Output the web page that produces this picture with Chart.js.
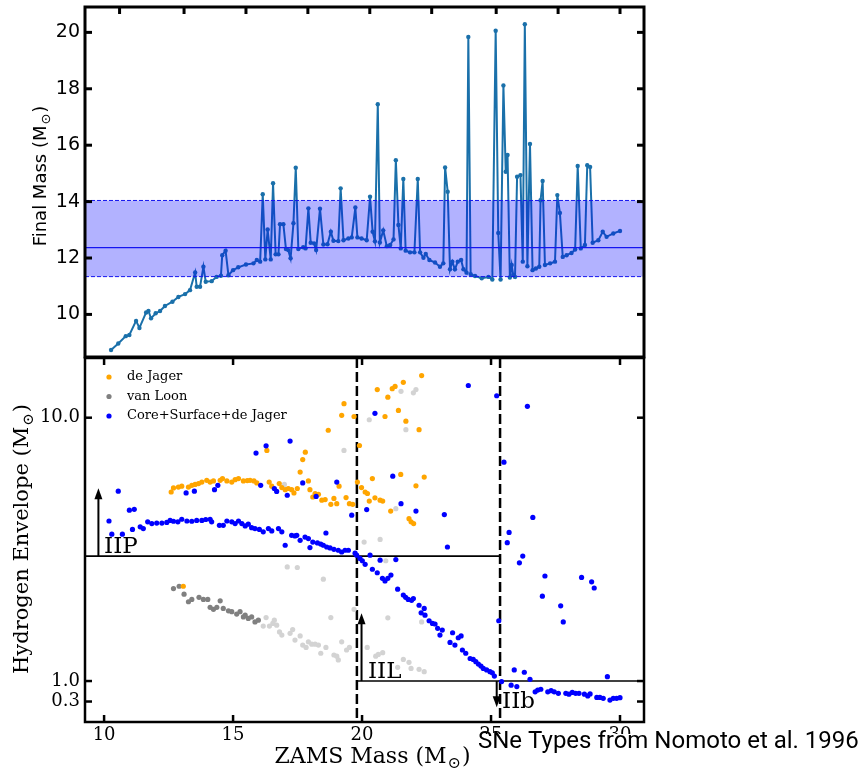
<!DOCTYPE html>
<html>
<head>
<meta charset="utf-8">
<script src="https://cdn.jsdelivr.net/npm/chart.js"></script>
<style>
  html, body { margin: 0; padding: 0; background: #fff; }
  #wrap { position: relative; width: 862px; height: 769px; }
  canvas { position: absolute; left: 0; top: 0; }
</style>
</head>
<body>
<div id="wrap">
  <canvas id="bottom" width="862" height="769"></canvas>
  <canvas id="top" width="862" height="769"></canvas>
</div>
<script>
// Top panel: final mass against ZAMS mass
const topZams = [
  10.27, 10.55, 10.84, 10.98, 11.24, 11.37, 11.63, 11.72, 11.82, 12.00,
  12.17, 12.36, 12.65, 12.88, 13.14, 13.33, 13.53, 13.59, 13.72, 13.85,
  13.94, 14.17, 14.36, 14.53, 14.58, 14.71, 14.82, 15.00, 15.20, 15.50,
  15.79, 15.92, 16.05, 16.15, 16.25, 16.34, 16.46, 16.55, 16.65, 16.76,
  16.82, 16.95, 17.05, 17.14, 17.23, 17.34, 17.43, 17.53, 17.72, 17.81,
  17.92, 18.01, 18.14, 18.22, 18.37, 18.50, 18.66, 18.79, 18.89, 19.08,
  19.17, 19.28, 19.47, 19.60, 19.74, 19.82, 19.98, 20.18, 20.31, 20.41,
  20.50, 20.61, 20.69, 20.82, 20.96, 21.09, 21.22, 21.31, 21.41, 21.50,
  21.60, 21.69, 21.86, 22.03, 22.16, 22.25, 22.38, 22.47, 22.61, 22.83,
  23.02, 23.15, 23.22, 23.32, 23.41, 23.50, 23.60, 23.71, 23.84, 23.93,
  24.05, 24.12, 24.21, 24.38, 24.64, 24.90, 25.05, 25.18, 25.28, 25.37,
  25.48, 25.57, 25.64, 25.73, 25.80, 25.86, 25.93, 26.01, 26.14, 26.23,
  26.31, 26.41, 26.51, 26.61, 26.74, 26.87, 26.92, 27.00, 27.09, 27.29,
  27.48, 27.57, 27.67, 27.78, 27.93, 28.12, 28.26, 28.36, 28.48, 28.64,
  28.73, 28.84, 28.94, 29.16, 29.33, 29.48, 29.74, 30.00
];
const topFinal = [
  8.74, 8.97, 9.23, 9.27, 9.77, 9.52, 10.07, 10.12, 9.86, 10.04,
  10.12, 10.30, 10.45, 10.62, 10.72, 10.86, 11.49, 10.98, 10.98, 11.69,
  11.16, 11.18, 11.33, 11.37, 12.10, 12.26, 11.39, 11.57, 11.67, 11.77,
  11.81, 11.93, 11.87, 14.26, 11.95, 13.01, 11.95, 14.65, 12.13, 12.13,
  13.20, 13.20, 12.32, 12.28, 11.99, 13.23, 15.20, 12.32, 12.38, 12.34,
  13.76, 12.54, 12.52, 12.28, 13.75, 12.48, 12.49, 12.93, 12.61, 12.60,
  14.47, 12.63, 12.69, 12.73, 13.79, 12.73, 12.69, 12.63, 14.17, 12.93,
  12.59, 17.45, 12.55, 12.98, 12.42, 12.46, 12.66, 15.47, 13.17, 12.34,
  14.80, 12.26, 12.20, 12.20, 14.80, 12.20, 12.01, 12.14, 11.93, 11.84,
  11.69, 11.81, 15.21, 14.35, 11.60, 11.87, 11.60, 11.87, 11.93, 11.60,
  11.48, 19.84, 11.43, 11.36, 11.28, 11.33, 11.24, 20.06, 12.89, 11.24,
  18.12, 15.06, 15.65, 11.31, 11.75, 11.40, 11.33, 14.88, 14.94, 11.87,
  20.29, 11.71, 16.04, 11.57, 11.63, 11.69, 14.05, 14.73, 11.75, 11.81,
  11.87, 14.23, 13.60, 12.04, 12.10, 12.18, 12.30, 15.26, 12.34, 12.46,
  15.29, 15.23, 12.54, 12.63, 12.93, 12.75, 12.87, 12.96
];

// band of final masses
const bandLow = 11.34;
const bandMid = 12.37;
const bandHigh = 14.04;

// Bottom panel: hydrogen envelope mass
const coreZams = [
  10.19, 10.30, 10.55, 10.71, 10.98, 11.10, 11.17, 11.40, 11.52, 11.69,
  11.85, 12.04, 12.24, 12.43, 12.56, 12.69, 12.86, 13.01, 13.18, 13.21,
  13.40, 13.50, 13.59, 13.79, 13.94, 14.11, 14.17, 14.28, 14.41, 14.47,
  14.62, 14.76, 14.95, 15.08, 15.21, 15.34, 15.47, 15.59, 15.72, 15.85,
  15.89, 16.02, 16.07, 16.17, 16.28, 16.37, 16.50, 16.60, 16.69, 16.76,
  16.89, 17.02, 17.10, 17.21, 17.27, 17.40, 17.47, 17.60, 17.70, 17.79,
  17.92, 17.98, 18.09, 18.22, 18.27, 18.40, 18.50, 18.60, 18.63, 18.76,
  18.91, 19.02, 19.08, 19.21, 19.34, 19.47, 19.60, 19.73, 19.79, 19.92,
  20.01, 20.12, 20.18, 20.31, 20.40, 20.50, 20.59, 20.70, 20.79, 20.89,
  21.00, 21.12, 21.19, 21.31, 21.38, 21.51, 21.60, 21.69, 21.79, 21.92,
  21.99, 22.09, 22.21, 22.29, 22.41, 22.44, 22.60, 22.73, 22.83, 22.93,
  23.02, 23.11, 23.19, 23.31, 23.41, 23.51, 23.60, 23.73, 23.84, 23.89,
  24.02, 24.12, 24.19, 24.31, 24.41, 24.51, 24.61, 24.70, 24.83, 24.96,
  25.05, 25.13, 25.22, 25.30, 25.41, 25.50, 25.63, 25.70, 25.78, 25.90,
  26.00, 26.10, 26.23, 26.29, 26.41, 26.51, 26.62, 26.71, 26.81, 26.93,
  26.99, 27.09, 27.20, 27.33, 27.45, 27.61, 27.70, 27.80, 27.90, 28.02,
  28.15, 28.28, 28.41, 28.51, 28.62, 28.75, 28.84, 28.90, 29.00, 29.10,
  29.22, 29.35, 29.51, 29.61, 29.74, 29.87, 30.00
];
const coreEnv = [
  6.47, 6.02, 7.49, 6.02, 6.84, 6.18, 6.87, 6.27, 6.21, 6.44,
  6.38, 6.40, 6.40, 6.42, 6.49, 6.46, 6.44, 6.53, 7.43, 6.47,
  6.46, 7.49, 6.49, 6.49, 6.52, 6.53, 6.44, 7.54, 7.69, 6.32,
  6.32, 6.47, 6.44, 6.38, 6.47, 6.38, 6.30, 6.36, 6.24, 6.21,
  8.79, 6.18, 7.69, 6.10, 9.04, 6.21, 6.13, 7.58, 7.48, 6.21,
  6.10, 5.64, 7.35, 9.20, 5.98, 5.96, 5.98, 5.81, 7.77, 5.92,
  5.87, 5.56, 5.75, 7.31, 5.72, 5.68, 5.64, 6.06, 5.58, 5.55,
  5.50, 7.80, 5.47, 5.41, 5.47, 5.47, 6.67, 5.37, 5.30, 5.19,
  5.11, 4.99, 6.86, 5.30, 4.82, 10.15, 4.70, 5.13, 4.51, 4.42,
  4.51, 4.62, 8.00, 5.15, 4.14, 7.06, 3.94, 3.86, 3.79, 3.76,
  3.82, 6.81, 3.59, 3.33, 3.48, 3.25, 3.06, 2.97, 2.95, 2.80,
  2.57, 2.74, 6.69, 5.58, 2.32, 2.65, 2.23, 2.48, 2.54, 2.06,
  1.95, 11.10, 1.77, 1.74, 1.66, 1.58, 1.51, 1.43, 1.38, 1.32,
  1.28, 1.17, 10.75, 3.06, 0.98, 8.48, 5.73, 6.08, 0.86, 1.38,
  0.81, 5.04, 5.27, 1.30, 10.39, 1.06, 6.59, 0.63, 0.69, 0.72,
  3.90, 4.59, 0.63, 0.67, 0.63, 0.58, 3.57, 3.02, 0.58, 0.55,
  0.61, 0.58, 0.58, 4.54, 0.55, 0.49, 0.56, 4.39, 4.18, 0.44,
  0.44, 0.41, 1.15, 0.35, 0.41, 0.41, 0.43
];

const jagerZams = [
  12.60, 12.69, 12.88, 13.01, 13.07, 13.27, 13.40, 13.53, 13.66, 13.79,
  13.98, 14.11, 14.24, 14.50, 14.59, 14.76, 14.95, 15.08, 15.21, 15.40,
  15.55, 15.66, 15.81, 15.92, 16.31, 16.40, 16.50, 16.79, 16.89, 17.02,
  17.14, 17.27, 17.36, 17.49, 17.60, 17.70, 17.80, 17.92, 17.98, 18.09,
  18.18, 18.31, 18.44, 18.57, 18.69, 18.79, 18.91, 19.02, 19.11, 19.21,
  19.30, 19.38, 19.51, 19.64, 19.69, 19.82, 19.90, 19.98, 20.12, 20.21,
  20.28, 20.40, 20.50, 20.59, 20.70, 20.80, 20.89, 21.00, 21.11, 21.17,
  21.28, 21.41, 21.50, 21.60, 21.70, 21.82, 21.90, 22.00, 22.09, 22.21,
  22.31, 22.41
];
const jagerEnv = [
  7.46, 7.60, 7.63, 7.66, 4.24, 7.63, 7.69, 7.72, 7.75, 7.80,
  7.86, 7.80, 7.84, 7.86, 7.92, 7.84, 7.80, 7.88, 7.92, 7.84,
  7.85, 7.86, 7.84, 7.77, 8.88, 7.80, 7.66, 7.75, 7.61, 7.54,
  7.58, 7.54, 7.43, 7.58, 8.14, 8.57, 8.82, 7.84, 7.54, 7.29,
  7.41, 7.38, 7.18, 7.20, 9.57, 7.04, 7.24, 7.06, 7.66, 10.08,
  10.48, 7.27, 7.06, 7.04, 10.04, 7.80, 9.05, 7.61, 7.46, 7.41,
  7.15, 7.92, 7.26, 10.96, 7.18, 7.15, 10.04, 10.70, 6.81, 10.99,
  11.07, 10.25, 8.06, 11.21, 9.88, 6.55, 6.44, 6.38, 7.67, 9.59,
  11.44, 7.97
];

const loonZams = [
  12.69, 12.91, 13.10, 13.27, 13.40, 13.68, 13.85, 14.02, 14.11, 14.24,
  14.37, 14.50, 14.62, 14.82, 14.95, 15.14, 15.27, 15.40, 15.47, 15.59,
  15.72, 15.85, 15.98
];
const loonEnv = [
  4.16, 4.24, 3.97, 3.71, 3.79, 3.86, 3.79, 3.79, 3.52, 3.45,
  3.52, 3.74, 3.48, 3.40, 3.37, 3.29, 3.37, 3.19, 3.25, 3.14,
  3.19, 3.02, 3.08
];

// light grey points, not in the legend
const loonHighZams = [
  16.17, 16.28, 16.41, 16.54, 16.60, 16.69, 16.80, 16.89, 16.99, 17.10,
  17.21, 17.31, 17.40, 17.49, 17.60, 17.70, 17.83, 17.92, 18.05, 18.18,
  18.31, 18.40, 18.50, 18.60, 18.79, 18.91, 19.02, 19.08, 19.21, 19.30,
  19.40, 19.51, 19.69, 20.08, 20.20, 20.28, 20.53, 20.63, 20.70, 20.80,
  20.92, 21.00, 21.31, 21.38, 21.51, 21.60, 21.70, 21.82, 21.90, 21.99,
  22.09, 22.21, 22.31, 22.41
];
const loonHighEnv = [
  2.88, 3.17, 2.88, 2.97, 3.08, 2.91, 2.68, 2.57, 7.72, 4.90,
  2.63, 2.76, 2.40, 4.88, 2.54, 2.23, 2.15, 2.34, 2.26, 2.26,
  2.23, 1.95, 4.48, 2.15, 3.17, 1.89, 1.85, 1.72, 2.34, 8.88,
  2.06, 2.15, 3.45, 5.75, 2.15, 9.93, 1.85, 1.91, 5.84, 1.97,
  5.11, 3.16, 6.89, 1.47, 10.90, 1.74, 9.59, 1.64, 1.43, 10.85,
  10.96, 1.40, 3.02, 1.32
];

// ticks
const xTicks = [10, 15, 20, 25, 30];
const topEdgeTicks = [10.6, 13.1, 15.5, 17.9, 20.3, 22.7, 25.2, 27.6, 30.0];
const finalTicks = [10, 12, 14, 16, 18, 20];
const envTicks = [0.3, 1.0, 10.0];

// SNe type regions (Nomoto et al. 1996)
const iipEnvelope = 5.27;
const iilMass = 19.8;
const iibMass = 25.35;
const iilEnvelope = 1.0;
const typeArrows = [
  { x: 9.78, from: 5.27, to: 7.59 },
  { x: 19.98, from: 1.0, to: 3.32 },
  { x: 25.22, from: 1.0, to: 0.1 }
];
const typeLabels = [
  { text: 'IIP', x: 10.0, y: 5.37 },
  { text: 'IIL', x: 20.23, y: 1.10 },
  { text: 'IIb', x: 25.43, y: 0.09 }
];

const legendItems = [
  { label: 'de Jager', color: '#ffa500' },
  { label: 'van Loon', color: '#808080' },
  { label: 'Core+Surface+de Jager', color: '#0000ff' }
];

const pts = (xs, ys) => xs.map((x, i) => ({ x: x, y: ys[i] }));

const X_MIN = 9.26, X_MAX = 30.93;

// helpers
function hline(ctx, x1, x2, y) {
    ctx.beginPath(); ctx.moveTo(x1, y); ctx.lineTo(x2, y); ctx.stroke();
}
function vline(ctx, x, y1, y2) {
    ctx.beginPath(); ctx.moveTo(x, y1); ctx.lineTo(x, y2); ctx.stroke();
}

function drawFrame(chart, lw, yTickVals, topVals, bottomVals, rightVals) {
    const { ctx, chartArea: a, scales: { x, y } } = chart;
    ctx.save();
    ctx.strokeStyle = '#000';
    ctx.lineWidth = lw;
    ctx.strokeRect(a.left, a.top, a.right - a.left, a.bottom - a.top);
    const len = 7;
    yTickVals.forEach(v => {
        const py = y.getPixelForValue(v);
        hline(ctx, a.left, a.left + len, py);
    });
    rightVals.forEach(v => {
        const py = y.getPixelForValue(v);
        hline(ctx, a.right - len, a.right, py);
    });
    topVals.forEach(v => {
        const px = x.getPixelForValue(v);
        vline(ctx, px, a.top, a.top + len);
    });
    bottomVals.forEach(v => {
        const px = x.getPixelForValue(v);
        vline(ctx, px, a.bottom - len, a.bottom);
    });
    ctx.restore();
}

// label with a subscript sun symbol, e.g. "Final Mass (M_sun)"
function drawMsunLabel(ctx, pre, x, y, size, family, rotate) {
    ctx.save();
    ctx.translate(x, y);
    if (rotate) ctx.rotate(-Math.PI / 2);
    const big = size + 'px ' + family;
    const small = Math.round(size * 0.72) + 'px ' + family;
    ctx.font = big;
    const w1 = ctx.measureText(pre + 'M').width;
    const w3 = ctx.measureText(')').width;
    ctx.font = small;
    const w2 = ctx.measureText('\u2299').width;
    let cx = -(w1 + w2 + w3) / 2;
    ctx.fillStyle = '#000';
    ctx.textAlign = 'left';
    ctx.textBaseline = 'alphabetic';
    ctx.font = big;
    ctx.fillText(pre + 'M', cx, 0);
    cx += w1;
    ctx.font = small;
    ctx.fillText('\u2299', cx + 1, size * 0.22);
    cx += w2 + 2;
    ctx.font = big;
    ctx.fillText(')', cx, 0);
    ctx.restore();
}

function arrow(ctx, x, y1, y2) {
    const dir = Math.sign(y2 - y1);
    ctx.beginPath();
    ctx.moveTo(x, y1);
    ctx.lineTo(x, y2 - dir * 8);
    ctx.stroke();
    ctx.beginPath();
    ctx.moveTo(x, y2);
    ctx.lineTo(x - 4, y2 - dir * 11);
    ctx.lineTo(x + 4, y2 - dir * 11);
    ctx.closePath();
    ctx.fill();
}

// Top chart decorations
const topDecor = {
    id: 'topDecor',
    afterDatasetsDraw(chart) {
        const { ctx, chartArea: a, scales: { y } } = chart;
        const yl = y.getPixelForValue(bandLow);
        const yh = y.getPixelForValue(bandHigh);
        const ym = y.getPixelForValue(bandMid);
        ctx.save();
        ctx.fillStyle = 'rgba(0,0,255,0.3)';
        ctx.fillRect(a.left, yh, a.right - a.left, yl - yh);
        ctx.strokeStyle = '#1515f0';
        ctx.lineWidth = 1;
        ctx.setLineDash([4, 2]);
        hline(ctx, a.left, a.right, yh);
        hline(ctx, a.left, a.right, yl);
        ctx.setLineDash([]);
        ctx.lineWidth = 1.3;
        hline(ctx, a.left, a.right, ym);
        ctx.restore();
    },
    afterDraw(chart) {
        drawFrame(chart, 3, finalTicks, topEdgeTicks, [], finalTicks);
        const a = chart.chartArea;
        drawMsunLabel(chart.ctx, 'Final Mass (', 46, (a.top + a.bottom) / 2 - 5, 18, '"DejaVu Sans"', true);
    }
};

// Bottom chart decorations
const bottomDecor = {
    id: 'bottomDecor',
    beforeDatasetsDraw(chart) {
        const { ctx, chartArea: a, scales: { x, y } } = chart;
        ctx.save();
        ctx.strokeStyle = '#000';
        ctx.fillStyle = '#000';
        // region lines
        ctx.lineWidth = 1.6;
        hline(ctx, a.left, x.getPixelForValue(iibMass), y.getPixelForValue(iipEnvelope));
        hline(ctx, x.getPixelForValue(iilMass), a.right, y.getPixelForValue(iilEnvelope));
        ctx.lineWidth = 2.5;
        ctx.setLineDash([10, 4]);
        vline(ctx, x.getPixelForValue(iilMass), a.top, a.bottom);
        vline(ctx, x.getPixelForValue(iibMass), a.top, a.bottom);
        ctx.setLineDash([]);
        ctx.lineWidth = 2;
        typeArrows.forEach(t => {
            arrow(ctx, x.getPixelForValue(t.x), y.getPixelForValue(t.from), y.getPixelForValue(t.to));
        });
        ctx.restore();
    },
    afterDraw(chart) {
        const { ctx, chartArea: a, scales: { x, y } } = chart;
        ctx.save();
        ctx.fillStyle = '#000';
        ctx.font = '23px "DejaVu Serif"';
        ctx.textAlign = 'left';
        ctx.textBaseline = 'alphabetic';
        typeLabels.forEach(t => {
            ctx.fillText(t.text, x.getPixelForValue(t.x), y.getPixelForValue(t.y));
        });

        // legend
        ctx.font = '13px "DejaVu Serif"';
        ctx.textBaseline = 'middle';
        legendItems.forEach((it, i) => {
            const ly = a.top + 19 + i * 19.5;
            ctx.fillStyle = it.color;
            ctx.beginPath();
            ctx.arc(a.left + 24, ly, 2.6, 0, Math.PI * 2);
            ctx.fill();
            ctx.fillStyle = '#000';
            ctx.fillText(it.label, a.left + 42, ly);
        });
        ctx.restore();

        drawFrame(chart, 2.5, envTicks, xTicks, xTicks, envTicks);

        drawMsunLabel(ctx, 'Hydrogen Envelope (', 28, (a.top + a.bottom) / 2, 21, '"DejaVu Serif"', true);
        drawMsunLabel(ctx, 'ZAMS Mass (', (a.left + a.right) / 2 + 7, 763, 22, '"DejaVu Serif"', false);

        // caption with a white box
        ctx.save();
        ctx.fillStyle = '#fff';
        ctx.fillRect(476, 734, 386, 35);
        ctx.fillStyle = '#000';
        ctx.font = '24px Roboto';
        ctx.textAlign = 'left';
        ctx.textBaseline = 'alphabetic';
        ctx.fillText('SNe Types from Nomoto et al. 1996', 478, 748);
        ctx.restore();
    }
};

Chart.defaults.color = '#000';

new Chart(document.getElementById('top'), {
    type: 'scatter',
    data: {
        datasets: [{
            data: pts(topZams, topFinal),
            showLine: true,
            borderColor: '#1a70aa',
            backgroundColor: '#1a70aa',
            borderWidth: 2,
            pointRadius: 2.2,
            pointBorderWidth: 0,
            tension: 0
        }]
    },
    options: {
        responsive: false,
        animation: false,
        devicePixelRatio: 1,
        layout: { padding: { left: 0, top: 7, right: 218, bottom: 412 } },
        plugins: { legend: { display: false }, tooltip: { enabled: false } },
        scales: {
            x: { type: 'linear', min: X_MIN, max: X_MAX, display: false },
            y: {
                type: 'linear', min: 8.49, max: 20.9,
                grid: { display: false, drawTicks: false },
                border: { display: false },
                ticks: {
                    padding: 5,
                    font: { family: 'DejaVu Sans', size: 19 },
                    color: '#000',
                    callback: v => String(v)
                },
                afterBuildTicks: s => { s.ticks = finalTicks.map(v => ({ value: v })); },
                afterFit: s => { s.width = 85; s.paddingTop = 0; s.paddingBottom = 0; }
            }
        }
    },
    plugins: [topDecor]
});

new Chart(document.getElementById('bottom'), {
    type: 'scatter',
    data: {
        datasets: [
            { label: 'Core+Surface+de Jager', data: pts(coreZams, coreEnv), backgroundColor: '#0000ff' },
            { label: 'de Jager', data: pts(jagerZams, jagerEnv), backgroundColor: '#ffa500' },
            { label: 'van Loon', data: pts(loonZams, loonEnv), backgroundColor: '#808080' },
            { label: '', data: pts(loonHighZams, loonHighEnv), backgroundColor: '#d3d3d3' }
        ].map(d => Object.assign(d, { pointRadius: 2.6, pointBorderWidth: 0, borderWidth: 0 }))
    },
    options: {
        responsive: false,
        animation: false,
        devicePixelRatio: 1,
        layout: { padding: { left: 0, top: 358, right: 218, bottom: 0 } },
        plugins: { legend: { display: false }, tooltip: { enabled: false } },
        scales: {
            x: {
                type: 'linear', min: X_MIN, max: X_MAX,
                grid: { display: false, drawTicks: false },
                border: { display: false },
                ticks: {
                    padding: 3,
                    maxRotation: 0,
                    font: { family: 'DejaVu Serif', size: 18 },
                    color: '#000',
                    callback: v => String(v)
                },
                afterBuildTicks: s => { s.ticks = xTicks.map(v => ({ value: v })); },
                afterFit: s => { s.height = 47; s.paddingLeft = 0; s.paddingRight = 0; }
            },
            y: {
                type: 'linear', min: -0.40, max: 12.04,
                grid: { display: false, drawTicks: false },
                border: { display: false },
                ticks: {
                    padding: 5,
                    font: { family: 'DejaVu Serif', size: 18 },
                    color: '#000',
                    callback: v => v.toFixed(1)
                },
                afterBuildTicks: s => { s.ticks = envTicks.map(v => ({ value: v })); },
                afterFit: s => { s.width = 85; s.paddingTop = 0; s.paddingBottom = 0; }
            }
        }
    },
    plugins: [bottomDecor]
});
</script>
</body>
</html>
